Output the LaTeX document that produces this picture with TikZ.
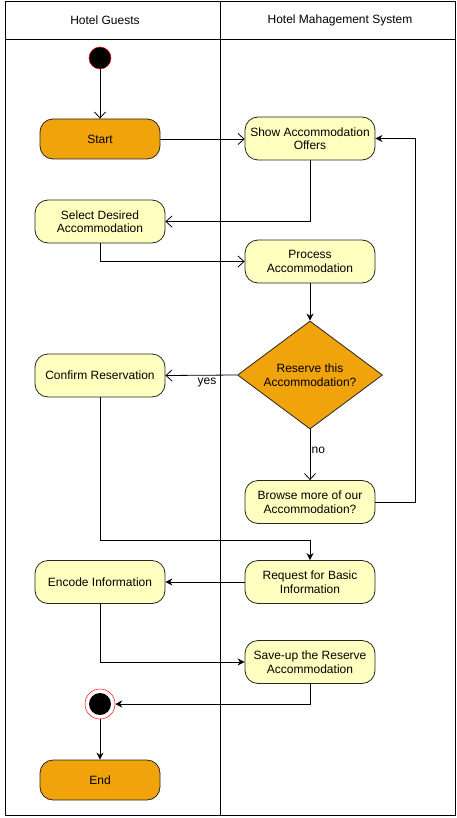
\documentclass[tikz,border=0pt]{standalone}
\usepackage{fontspec}
\setmainfont{Liberation Sans}
\usetikzlibrary{arrows.meta,shapes.geometric}
\definecolor{actorange}{HTML}{F0A30A}
\definecolor{actyellow}{HTML}{FFFFC0}

\begin{document}
\begin{tikzpicture}[x=1pt, y=-1pt, font=\fontsize{12}{13.5}\selectfont, line width=0.8pt]
	\useasboundingbox (0,0) rectangle (456,818);
      \tikzstyle{action} = [draw=black!85, rounded corners=13pt, fill=actyellow, minimum width=130pt, minimum height=43pt, align=center, inner sep=2pt]
      \tikzstyle{terminal} = [action, fill=actorange, minimum width=120pt, minimum height=40pt]
      \tikzstyle{openflow} = [-{Straight Barb[length=6pt,width=11pt]}]
      \tikzstyle{flow} = [-{Stealth[length=7pt,width=7pt]}]
      % swimlanes
      \draw (5,1) rectangle (455,815);
      \draw (5,39) -- (455,39);
      \draw (220,1) -- (220,815);
      \node (guests) at (105,20) {Hotel Guests};
      \node (system) at (340,20) {Hotel Mahagement System};
      % activities
      \node (init) at (100,58) [circle, fill=black, draw=red, line width=0.5pt, minimum size=22pt, inner sep=0pt] {};
      \node (start) at (100,139) [terminal] {Start};
      \node (offers) at (310,138.5) [action] {Show Accommodation\\Offers};
      \node (select) at (100,221.5) [action] {Select Desired\\Accommodation};
      \node (process) at (310,261.5) [action] {Process\\Accommodation};
      \node (reserve) at (310,375) [diamond, aspect=1.34, draw=black!85, fill=actorange, minimum width=145pt, minimum height=108pt, inner sep=-4pt, align=center] {Reserve this\\Accommodation?};
      \node (confirm) at (100,375.5) [action] {Confirm Reservation};
      \node (browse) at (310,502) [action] {Browse more of our\\Accommodation?};
      \node (request) at (310,582) [action] {Request for Basic\\Information};
      \node (encode) at (100,582) [action] {Encode Information};
      \node (saveup) at (310,662) [action] {Save-up the Reserve\\Accommodation};
      \node (final) at (100,704) [circle, fill=white, draw=red, line width=0.5pt, minimum size=30pt, inner sep=0pt] {};
      \node (finaldot) at (final.center) [circle, fill=black, minimum size=22pt, inner sep=0pt] {};
      \node (End) at (100,780) [terminal] {End};
      % flows
      \draw[openflow] (init) -- (start);
      \draw[openflow] (start.east) -- (start.east -| offers.west);
      \draw[openflow] (offers.south) |- (select.east);
      \draw[openflow] (select.south) |- (process.west);
      \draw[flow] (process) -- (reserve);
      \draw[openflow] (reserve.west) -- node [pos=0.42, below, yshift=1pt] {yes} (confirm.east);
      \draw[openflow] (reserve.south) -- node [pos=0.42, right, xshift=-2pt] {no} (browse.north);
      \draw[flow] (browse.east) -- ++(40,0) |- (offers.east);
      \draw[flow] (confirm.south) -- ++(0,143) -| (request.north);
      \draw[flow] (request.west) -- (encode.east);
      \draw[flow] (encode.south) |- (saveup.west);
      \draw[flow] (saveup.south) |- (final.east);
      \draw[flow] (final) -- (End);
    \end{tikzpicture}
\end{document}
